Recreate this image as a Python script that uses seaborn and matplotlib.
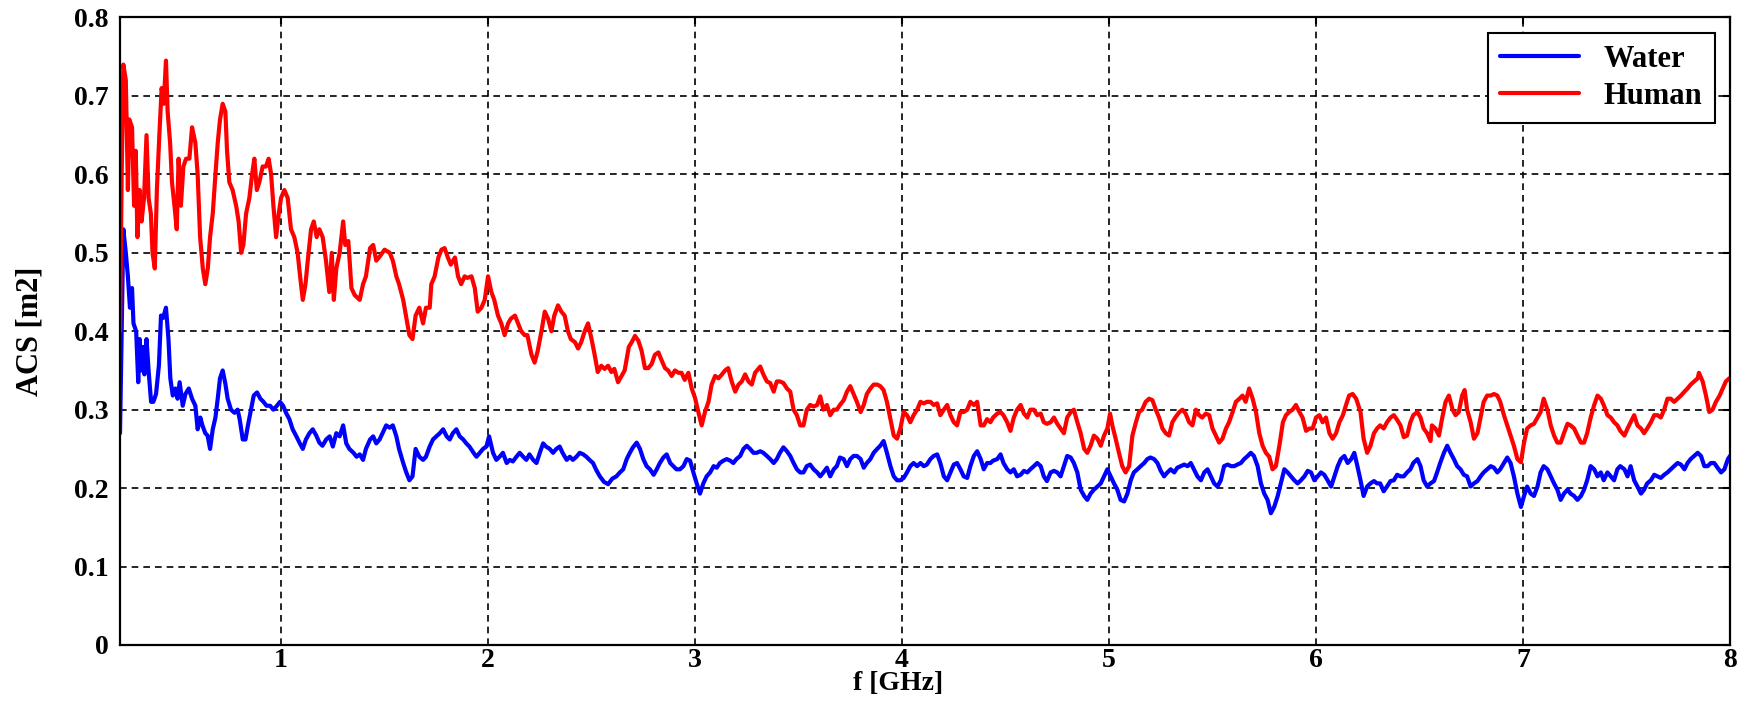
import matplotlib
matplotlib.use("Agg")
import matplotlib.pyplot as plt
import seaborn as sns
import pandas as pd

# (frequency in GHz, ACS in m2)
human_points = [
    (0.222, 0.40), (0.230, 0.60), (0.238, 0.74), (0.250, 0.72), (0.260, 0.58), (0.267, 0.67),
    (0.280, 0.66), (0.290, 0.56), (0.298, 0.63), (0.306, 0.52), (0.317, 0.58), (0.326, 0.54),
    (0.338, 0.57), (0.350, 0.65), (0.360, 0.57), (0.371, 0.55), (0.379, 0.50), (0.390, 0.48),
    (0.400, 0.58), (0.412, 0.65), (0.423, 0.71), (0.433, 0.69), (0.444, 0.745), (0.452, 0.68),
    (0.464, 0.64), (0.473, 0.59), (0.485, 0.56), (0.496, 0.53), (0.505, 0.62), (0.516, 0.56),
    (0.528, 0.61), (0.541, 0.62), (0.557, 0.62), (0.570, 0.66), (0.586, 0.64), (0.597, 0.60),
    (0.609, 0.52), (0.622, 0.48), (0.634, 0.46), (0.646, 0.48), (0.657, 0.52), (0.670, 0.55),
    (0.683, 0.60), (0.694, 0.64), (0.705, 0.67), (0.718, 0.69), (0.731, 0.68), (0.739, 0.63),
    (0.750, 0.59), (0.766, 0.58), (0.783, 0.56), (0.795, 0.54), (0.807, 0.50), (0.818, 0.51),
    (0.831, 0.55), (0.847, 0.57), (0.860, 0.60), (0.871, 0.62), (0.883, 0.58), (0.895, 0.59),
    (0.911, 0.61), (0.927, 0.61), (0.940, 0.62), (0.952, 0.60), (0.963, 0.56), (0.976, 0.52),
    (0.989, 0.55), (1.000, 0.57), (1.016, 0.58), (1.032, 0.57), (1.048, 0.53), (1.064, 0.52),
    (1.080, 0.50), (1.092, 0.47), (1.105, 0.44), (1.118, 0.46), (1.129, 0.49), (1.145, 0.53),
    (1.158, 0.54), (1.172, 0.52), (1.185, 0.53), (1.201, 0.52), (1.217, 0.49), (1.233, 0.45),
    (1.245, 0.50), (1.255, 0.44), (1.267, 0.48), (1.283, 0.50), (1.300, 0.54), (1.310, 0.51),
    (1.325, 0.515), (1.340, 0.455), (1.356, 0.446), (1.380, 0.44), (1.396, 0.46), (1.410, 0.47),
    (1.430, 0.506), (1.445, 0.51), (1.460, 0.49), (1.476, 0.495), (1.500, 0.504), (1.525, 0.50),
    (1.540, 0.49), (1.557, 0.47), (1.570, 0.46), (1.590, 0.44), (1.600, 0.425), (1.620, 0.395),
    (1.635, 0.39), (1.650, 0.42), (1.668, 0.43), (1.686, 0.41), (1.700, 0.43), (1.718, 0.43),
    (1.726, 0.46), (1.742, 0.47), (1.760, 0.494), (1.775, 0.504), (1.790, 0.506), (1.806, 0.494),
    (1.820, 0.485), (1.840, 0.494), (1.855, 0.47), (1.870, 0.46), (1.887, 0.47), (1.900, 0.468),
    (1.920, 0.47), (1.936, 0.455), (1.950, 0.425), (1.968, 0.43), (1.984, 0.44), (2.000, 0.47),
    (2.016, 0.45), (2.030, 0.44), (2.048, 0.42), (2.064, 0.41), (2.080, 0.395), (2.097, 0.41),
    (2.110, 0.416), (2.130, 0.42), (2.145, 0.41), (2.160, 0.40), (2.177, 0.395), (2.190, 0.395),
    (2.210, 0.37), (2.225, 0.36), (2.240, 0.375), (2.258, 0.40), (2.274, 0.425), (2.290, 0.416),
    (2.306, 0.40), (2.320, 0.42), (2.338, 0.433), (2.354, 0.425), (2.370, 0.42), (2.386, 0.40),
    (2.400, 0.39), (2.420, 0.386), (2.435, 0.378), (2.450, 0.386), (2.467, 0.40), (2.483, 0.41),
    (2.500, 0.39), (2.515, 0.37), (2.530, 0.348), (2.547, 0.356), (2.563, 0.352), (2.580, 0.356),
    (2.596, 0.348), (2.610, 0.352), (2.628, 0.335), (2.660, 0.35), (2.680, 0.38), (2.694, 0.386),
    (2.710, 0.394), (2.726, 0.388), (2.742, 0.375), (2.758, 0.353), (2.774, 0.353), (2.790, 0.358),
    (2.806, 0.37), (2.823, 0.373), (2.840, 0.362), (2.855, 0.353), (2.870, 0.35), (2.887, 0.343),
    (2.903, 0.35), (2.920, 0.347), (2.935, 0.347), (2.950, 0.338), (2.968, 0.347), (2.984, 0.327),
    (3.000, 0.315), (3.016, 0.297), (3.032, 0.28), (3.048, 0.297), (3.065, 0.31), (3.080, 0.332),
    (3.097, 0.343), (3.113, 0.34), (3.130, 0.345), (3.145, 0.35), (3.160, 0.353), (3.177, 0.336),
    (3.194, 0.323), (3.210, 0.332), (3.226, 0.336), (3.242, 0.345), (3.258, 0.336), (3.274, 0.332),
    (3.290, 0.347), (3.315, 0.355), (3.330, 0.345), (3.347, 0.336), (3.363, 0.334), (3.380, 0.323),
    (3.395, 0.336), (3.410, 0.336), (3.427, 0.334), (3.444, 0.327), (3.460, 0.323), (3.476, 0.30),
    (3.492, 0.293), (3.508, 0.28), (3.524, 0.28), (3.540, 0.30), (3.556, 0.306), (3.573, 0.304),
    (3.590, 0.306), (3.605, 0.317), (3.620, 0.30), (3.637, 0.306), (3.653, 0.293), (3.670, 0.30),
    (3.685, 0.30), (3.700, 0.306), (3.718, 0.312), (3.734, 0.323), (3.750, 0.33), (3.766, 0.32),
    (3.782, 0.31), (3.800, 0.297), (3.815, 0.306), (3.830, 0.32), (3.847, 0.327), (3.863, 0.332),
    (3.880, 0.332), (3.895, 0.33), (3.911, 0.325), (3.927, 0.31), (3.944, 0.288), (3.960, 0.267),
    (3.976, 0.263), (3.992, 0.276), (4.008, 0.297), (4.024, 0.293), (4.040, 0.284), (4.056, 0.293),
    (4.073, 0.30), (4.089, 0.31), (4.105, 0.308), (4.120, 0.31), (4.137, 0.31), (4.153, 0.306),
    (4.170, 0.308), (4.185, 0.293), (4.202, 0.30), (4.218, 0.306), (4.234, 0.293), (4.250, 0.284),
    (4.266, 0.28), (4.282, 0.297), (4.298, 0.297), (4.315, 0.30), (4.330, 0.31), (4.347, 0.306),
    (4.363, 0.31), (4.380, 0.28), (4.395, 0.28), (4.411, 0.288), (4.427, 0.284), (4.440, 0.29),
    (4.460, 0.295), (4.476, 0.297), (4.490, 0.293), (4.508, 0.284), (4.524, 0.273), (4.540, 0.29),
    (4.556, 0.30), (4.573, 0.306), (4.589, 0.295), (4.605, 0.29), (4.620, 0.30), (4.637, 0.30),
    (4.653, 0.293), (4.670, 0.295), (4.685, 0.284), (4.700, 0.282), (4.718, 0.284), (4.734, 0.29),
    (4.750, 0.282), (4.766, 0.276), (4.782, 0.27), (4.798, 0.29), (4.815, 0.297), (4.830, 0.30),
    (4.847, 0.284), (4.863, 0.27), (4.880, 0.25), (4.895, 0.245), (4.911, 0.254), (4.927, 0.267),
    (4.944, 0.263), (4.960, 0.254), (4.976, 0.267), (4.992, 0.276), (5.005, 0.295), (5.016, 0.28),
    (5.032, 0.263), (5.048, 0.245), (5.064, 0.228), (5.080, 0.22), (5.097, 0.228), (5.113, 0.267),
    (5.130, 0.284), (5.145, 0.297), (5.160, 0.30), (5.177, 0.31), (5.194, 0.314), (5.210, 0.312),
    (5.226, 0.30), (5.242, 0.29), (5.258, 0.276), (5.274, 0.27), (5.290, 0.267), (5.306, 0.284),
    (5.320, 0.29), (5.340, 0.297), (5.355, 0.30), (5.370, 0.295), (5.387, 0.284), (5.403, 0.28),
    (5.420, 0.30), (5.435, 0.293), (5.450, 0.29), (5.468, 0.295), (5.484, 0.293), (5.500, 0.276),
    (5.516, 0.267), (5.532, 0.258), (5.548, 0.263), (5.565, 0.276), (5.580, 0.284), (5.597, 0.297),
    (5.613, 0.31), (5.630, 0.314), (5.645, 0.318), (5.660, 0.31), (5.677, 0.327), (5.694, 0.314),
    (5.710, 0.297), (5.726, 0.27), (5.742, 0.254), (5.758, 0.245), (5.774, 0.24), (5.790, 0.224),
    (5.806, 0.228), (5.823, 0.254), (5.840, 0.284), (5.855, 0.293), (5.870, 0.297), (5.887, 0.30),
    (5.903, 0.306), (5.920, 0.297), (5.935, 0.29), (5.952, 0.273), (5.968, 0.276), (5.984, 0.276),
    (6.000, 0.29), (6.016, 0.293), (6.032, 0.284), (6.048, 0.29), (6.065, 0.27), (6.080, 0.263),
    (6.097, 0.27), (6.113, 0.284), (6.130, 0.293), (6.145, 0.306), (6.160, 0.318), (6.177, 0.32),
    (6.194, 0.314), (6.215, 0.297), (6.230, 0.263), (6.247, 0.245), (6.263, 0.254), (6.280, 0.27),
    (6.295, 0.276), (6.310, 0.28), (6.327, 0.276), (6.343, 0.284), (6.360, 0.29), (6.376, 0.293),
    (6.392, 0.287), (6.408, 0.28), (6.424, 0.265), (6.440, 0.267), (6.456, 0.284), (6.470, 0.293),
    (6.490, 0.297), (6.505, 0.29), (6.520, 0.276), (6.537, 0.27), (6.553, 0.26), (6.560, 0.28),
    (6.577, 0.276), (6.594, 0.267), (6.610, 0.29), (6.626, 0.31), (6.642, 0.318), (6.660, 0.30),
    (6.674, 0.293), (6.690, 0.297), (6.706, 0.318), (6.718, 0.325), (6.730, 0.30), (6.747, 0.284),
    (6.763, 0.263), (6.780, 0.27), (6.795, 0.29), (6.810, 0.31), (6.827, 0.318), (6.844, 0.318),
    (6.860, 0.32), (6.876, 0.318), (6.890, 0.31), (6.908, 0.293), (6.924, 0.28), (6.940, 0.267),
    (6.956, 0.254), (6.973, 0.237), (6.990, 0.233), (7.005, 0.258), (7.020, 0.276), (7.037, 0.28),
    (7.053, 0.282), (7.070, 0.29), (7.085, 0.297), (7.100, 0.314), (7.118, 0.30), (7.134, 0.28),
    (7.150, 0.267), (7.166, 0.258), (7.182, 0.258), (7.198, 0.27), (7.215, 0.282), (7.230, 0.28),
    (7.247, 0.276), (7.263, 0.267), (7.280, 0.258), (7.295, 0.258), (7.310, 0.27), (7.327, 0.29),
    (7.344, 0.306), (7.360, 0.318), (7.376, 0.314), (7.390, 0.306), (7.408, 0.293), (7.424, 0.29),
    (7.440, 0.284), (7.456, 0.28), (7.470, 0.273), (7.490, 0.267), (7.505, 0.276), (7.520, 0.284),
    (7.537, 0.293), (7.553, 0.28), (7.570, 0.276), (7.585, 0.27), (7.600, 0.276), (7.618, 0.284),
    (7.634, 0.293), (7.650, 0.293), (7.666, 0.29), (7.682, 0.30), (7.698, 0.314), (7.714, 0.314),
    (7.730, 0.31), (7.747, 0.314), (7.763, 0.318), (7.780, 0.323), (7.795, 0.327), (7.810, 0.332),
    (7.827, 0.336), (7.844, 0.34), (7.850, 0.347), (7.868, 0.336), (7.884, 0.318), (7.900, 0.297),
    (7.916, 0.30), (7.932, 0.31), (7.950, 0.318), (7.965, 0.327), (7.980, 0.336), (7.997, 0.34),
]

water_points = [
    (0.222, 0.27), (0.230, 0.40), (0.238, 0.53), (0.250, 0.50), (0.260, 0.47), (0.270, 0.43),
    (0.280, 0.455), (0.287, 0.41), (0.300, 0.40), (0.310, 0.335), (0.317, 0.39), (0.325, 0.35),
    (0.333, 0.38), (0.340, 0.345), (0.350, 0.39), (0.360, 0.35), (0.372, 0.31), (0.383, 0.31),
    (0.396, 0.32), (0.410, 0.357), (0.420, 0.42), (0.430, 0.417), (0.444, 0.43), (0.456, 0.39),
    (0.465, 0.34), (0.477, 0.318), (0.490, 0.327), (0.500, 0.314), (0.510, 0.335), (0.525, 0.305),
    (0.538, 0.32), (0.554, 0.327), (0.570, 0.314), (0.586, 0.305), (0.597, 0.275), (0.610, 0.29),
    (0.620, 0.28), (0.634, 0.27), (0.645, 0.267), (0.657, 0.25), (0.670, 0.275), (0.683, 0.29),
    (0.694, 0.314), (0.705, 0.34), (0.718, 0.35), (0.731, 0.333), (0.742, 0.314), (0.758, 0.30),
    (0.775, 0.296), (0.790, 0.30), (0.800, 0.288), (0.815, 0.262), (0.828, 0.262), (0.840, 0.28),
    (0.855, 0.30), (0.868, 0.318), (0.884, 0.322), (0.900, 0.314), (0.915, 0.31), (0.930, 0.305),
    (0.947, 0.305), (0.963, 0.30), (0.980, 0.305), (0.995, 0.31), (1.010, 0.305), (1.024, 0.296),
    (1.040, 0.288), (1.056, 0.275), (1.072, 0.267), (1.089, 0.258), (1.105, 0.25), (1.120, 0.262),
    (1.137, 0.27), (1.153, 0.275), (1.170, 0.267), (1.185, 0.258), (1.200, 0.254), (1.218, 0.262),
    (1.235, 0.266), (1.250, 0.253), (1.267, 0.27), (1.283, 0.266), (1.300, 0.28), (1.315, 0.257),
    (1.330, 0.25), (1.350, 0.245), (1.365, 0.24), (1.380, 0.243), (1.396, 0.236), (1.410, 0.25),
    (1.430, 0.262), (1.445, 0.266), (1.460, 0.257), (1.476, 0.262), (1.490, 0.27), (1.508, 0.28),
    (1.525, 0.277), (1.540, 0.28), (1.557, 0.266), (1.570, 0.25), (1.590, 0.232), (1.605, 0.22),
    (1.620, 0.21), (1.635, 0.215), (1.650, 0.25), (1.668, 0.24), (1.686, 0.236), (1.700, 0.24),
    (1.718, 0.253), (1.734, 0.262), (1.750, 0.266), (1.767, 0.27), (1.783, 0.275), (1.800, 0.266),
    (1.815, 0.262), (1.830, 0.27), (1.847, 0.275), (1.863, 0.266), (1.880, 0.262), (1.895, 0.257),
    (1.910, 0.253), (1.930, 0.245), (1.944, 0.24), (1.960, 0.245), (1.976, 0.25), (1.992, 0.253),
    (2.005, 0.266), (2.024, 0.245), (2.040, 0.236), (2.056, 0.24), (2.072, 0.245), (2.090, 0.232),
    (2.105, 0.236), (2.120, 0.234), (2.137, 0.24), (2.153, 0.245), (2.170, 0.24), (2.185, 0.236),
    (2.200, 0.243), (2.218, 0.236), (2.234, 0.232), (2.250, 0.245), (2.266, 0.257), (2.280, 0.253),
    (2.298, 0.25), (2.314, 0.245), (2.330, 0.25), (2.346, 0.253), (2.360, 0.245), (2.380, 0.236),
    (2.395, 0.24), (2.410, 0.236), (2.427, 0.24), (2.443, 0.245), (2.460, 0.243), (2.475, 0.24),
    (2.490, 0.236), (2.507, 0.232), (2.523, 0.223), (2.540, 0.215), (2.560, 0.208), (2.580, 0.205),
    (2.600, 0.212), (2.620, 0.215), (2.637, 0.22), (2.653, 0.224), (2.670, 0.237), (2.685, 0.245),
    (2.700, 0.252), (2.718, 0.258), (2.734, 0.25), (2.750, 0.237), (2.766, 0.228), (2.782, 0.224),
    (2.800, 0.217), (2.815, 0.224), (2.830, 0.232), (2.847, 0.239), (2.863, 0.243), (2.880, 0.232),
    (2.895, 0.228), (2.910, 0.224), (2.927, 0.224), (2.944, 0.228), (2.960, 0.237), (2.976, 0.235),
    (2.992, 0.22), (3.008, 0.206), (3.024, 0.193), (3.040, 0.206), (3.056, 0.215), (3.073, 0.22),
    (3.090, 0.228), (3.105, 0.226), (3.120, 0.232), (3.137, 0.235), (3.153, 0.237), (3.170, 0.235),
    (3.185, 0.232), (3.200, 0.237), (3.218, 0.241), (3.234, 0.25), (3.250, 0.254), (3.266, 0.25),
    (3.282, 0.245), (3.298, 0.245), (3.315, 0.247), (3.330, 0.245), (3.347, 0.241), (3.363, 0.237),
    (3.380, 0.232), (3.395, 0.237), (3.410, 0.245), (3.427, 0.252), (3.444, 0.247), (3.460, 0.241),
    (3.476, 0.232), (3.492, 0.224), (3.508, 0.22), (3.524, 0.22), (3.540, 0.228), (3.556, 0.23),
    (3.573, 0.224), (3.590, 0.22), (3.605, 0.215), (3.620, 0.22), (3.637, 0.226), (3.653, 0.215),
    (3.670, 0.224), (3.685, 0.228), (3.700, 0.239), (3.718, 0.237), (3.734, 0.228), (3.750, 0.237),
    (3.766, 0.241), (3.782, 0.241), (3.800, 0.237), (3.815, 0.226), (3.830, 0.232), (3.847, 0.237),
    (3.863, 0.245), (3.880, 0.25), (3.895, 0.254), (3.911, 0.26), (3.927, 0.245), (3.944, 0.228),
    (3.960, 0.215), (3.976, 0.21), (3.992, 0.21), (4.008, 0.213), (4.024, 0.22), (4.040, 0.228),
    (4.056, 0.232), (4.073, 0.228), (4.089, 0.232), (4.105, 0.228), (4.120, 0.23), (4.137, 0.237),
    (4.153, 0.241), (4.170, 0.243), (4.185, 0.232), (4.202, 0.215), (4.218, 0.21), (4.234, 0.22),
    (4.250, 0.23), (4.266, 0.232), (4.282, 0.224), (4.298, 0.215), (4.315, 0.213), (4.330, 0.228),
    (4.347, 0.241), (4.363, 0.247), (4.380, 0.237), (4.395, 0.224), (4.411, 0.232), (4.427, 0.232),
    (4.440, 0.235), (4.460, 0.237), (4.476, 0.243), (4.490, 0.232), (4.508, 0.224), (4.524, 0.22),
    (4.540, 0.224), (4.556, 0.215), (4.573, 0.217), (4.589, 0.222), (4.605, 0.22), (4.620, 0.224),
    (4.637, 0.228), (4.653, 0.232), (4.670, 0.228), (4.685, 0.215), (4.700, 0.209), (4.718, 0.22),
    (4.734, 0.222), (4.750, 0.22), (4.766, 0.215), (4.782, 0.228), (4.798, 0.241), (4.815, 0.239),
    (4.830, 0.232), (4.847, 0.22), (4.863, 0.198), (4.880, 0.19), (4.895, 0.185), (4.911, 0.193),
    (4.927, 0.198), (4.944, 0.202), (4.960, 0.206), (4.976, 0.215), (4.992, 0.224), (5.008, 0.215),
    (5.024, 0.206), (5.040, 0.198), (5.056, 0.185), (5.073, 0.183), (5.089, 0.193), (5.105, 0.21),
    (5.120, 0.22), (5.137, 0.224), (5.153, 0.228), (5.170, 0.232), (5.185, 0.237), (5.200, 0.239),
    (5.218, 0.237), (5.234, 0.232), (5.250, 0.222), (5.266, 0.215), (5.282, 0.22), (5.298, 0.224),
    (5.315, 0.22), (5.330, 0.226), (5.347, 0.228), (5.363, 0.23), (5.380, 0.228), (5.395, 0.232),
    (5.410, 0.224), (5.427, 0.215), (5.444, 0.21), (5.460, 0.22), (5.476, 0.224), (5.492, 0.215),
    (5.508, 0.206), (5.524, 0.202), (5.540, 0.21), (5.556, 0.228), (5.573, 0.23), (5.590, 0.228),
    (5.605, 0.228), (5.620, 0.23), (5.637, 0.232), (5.653, 0.237), (5.670, 0.241), (5.685, 0.245),
    (5.700, 0.241), (5.718, 0.228), (5.734, 0.206), (5.750, 0.193), (5.766, 0.185), (5.782, 0.168),
    (5.798, 0.176), (5.815, 0.19), (5.830, 0.206), (5.847, 0.224), (5.863, 0.22), (5.879, 0.215),
    (5.895, 0.21), (5.911, 0.206), (5.927, 0.21), (5.944, 0.215), (5.960, 0.222), (5.976, 0.22),
    (5.992, 0.21), (6.008, 0.215), (6.024, 0.22), (6.040, 0.217), (6.056, 0.21), (6.073, 0.202),
    (6.089, 0.215), (6.105, 0.228), (6.120, 0.237), (6.137, 0.241), (6.153, 0.232), (6.170, 0.237),
    (6.185, 0.245), (6.200, 0.228), (6.215, 0.21), (6.230, 0.19), (6.247, 0.202), (6.263, 0.206),
    (6.280, 0.209), (6.295, 0.206), (6.310, 0.206), (6.327, 0.196), (6.343, 0.202), (6.360, 0.209),
    (6.376, 0.21), (6.392, 0.217), (6.408, 0.215), (6.424, 0.215), (6.440, 0.22), (6.456, 0.224),
    (6.470, 0.232), (6.490, 0.237), (6.505, 0.228), (6.520, 0.21), (6.537, 0.202), (6.553, 0.206),
    (6.570, 0.209), (6.585, 0.22), (6.600, 0.232), (6.618, 0.245), (6.634, 0.254), (6.650, 0.245),
    (6.666, 0.237), (6.682, 0.228), (6.698, 0.224), (6.714, 0.217), (6.730, 0.215), (6.747, 0.202),
    (6.763, 0.206), (6.780, 0.209), (6.795, 0.215), (6.810, 0.22), (6.827, 0.224), (6.844, 0.228),
    (6.860, 0.226), (6.876, 0.22), (6.890, 0.224), (6.908, 0.232), (6.924, 0.239), (6.940, 0.232),
    (6.956, 0.215), (6.973, 0.193), (6.990, 0.176), (7.005, 0.19), (7.020, 0.202), (7.037, 0.193),
    (7.053, 0.19), (7.070, 0.202), (7.085, 0.22), (7.100, 0.228), (7.118, 0.224), (7.134, 0.215),
    (7.150, 0.206), (7.166, 0.198), (7.182, 0.185), (7.198, 0.193), (7.215, 0.198), (7.230, 0.193),
    (7.247, 0.19), (7.263, 0.185), (7.280, 0.19), (7.295, 0.198), (7.310, 0.21), (7.327, 0.228),
    (7.344, 0.224), (7.360, 0.215), (7.376, 0.22), (7.390, 0.21), (7.408, 0.22), (7.424, 0.215),
    (7.440, 0.21), (7.456, 0.224), (7.470, 0.228), (7.490, 0.224), (7.505, 0.215), (7.520, 0.228),
    (7.537, 0.21), (7.553, 0.202), (7.570, 0.193), (7.585, 0.198), (7.600, 0.206), (7.618, 0.21),
    (7.634, 0.217), (7.650, 0.215), (7.666, 0.213), (7.682, 0.217), (7.698, 0.22), (7.714, 0.224),
    (7.730, 0.228), (7.747, 0.232), (7.763, 0.23), (7.780, 0.224), (7.795, 0.232), (7.810, 0.237),
    (7.827, 0.241), (7.844, 0.245), (7.860, 0.241), (7.876, 0.228), (7.892, 0.228), (7.908, 0.232),
    (7.924, 0.232), (7.940, 0.226), (7.957, 0.22), (7.973, 0.224), (7.990, 0.237), (8.000, 0.241),
]

series_names = ["Water", "Human"]
series_colors = {"Water": "#0000ff", "Human": "#ff0000"}
x_ticks = [1, 2, 3, 4, 5, 6, 7, 8]
y_ticks = [0, 0.1, 0.2, 0.3, 0.4, 0.5, 0.6, 0.7, 0.8]
y_tick_labels = ["0", "0.1", "0.2", "0.3", "0.4", "0.5", "0.6", "0.7", "0.8"]

frames = []
for name, pts in [("Water", water_points), ("Human", human_points)]:
    d = pd.DataFrame(pts, columns=["f", "acs"])
    d["material"] = name
    frames.append(d)
df = pd.concat(frames, ignore_index=True)

sns.set_style("white")
plt.rcParams["font.family"] = ["Liberation Serif", "DejaVu Serif"]
plt.rcParams["font.weight"] = "bold"
for key in ["text.color", "axes.labelcolor", "xtick.color", "ytick.color"]:
    plt.rcParams[key] = "black"

fig = plt.figure(figsize=(17.42, 7.23), dpi=100)
ax = fig.add_axes([0.0689, 0.1079, 0.9242, 0.8679])

sns.lineplot(data=df, x="f", y="acs", hue="material", hue_order=series_names,
             palette=series_colors, estimator=None, sort=False, linewidth=3.0, ax=ax)

ax.set_xlim(0.222, 8)
ax.set_ylim(0, 0.8)
ax.set_xticks(x_ticks)
ax.set_xticklabels([str(t) for t in x_ticks])
ax.set_yticks(y_ticks)
ax.set_yticklabels(y_tick_labels)
ax.grid(True, color="black", linestyle=(0, (4, 3)), linewidth=1.2)
ax.set_axisbelow(True)
ax.tick_params(direction="in", top=True, right=True, length=5, width=1.5, labelsize=20)
ax.tick_params(axis="y", pad=8)
ax.tick_params(axis="x", pad=2)
for s in ax.spines.values():
    s.set_linewidth(1.6)
    s.set_color("black")

ax.set_xlabel("f [GHz]", fontsize=20, fontweight="bold")
ax.set_ylabel("ACS [m2]", fontsize=22, fontweight="bold")
ax.xaxis.set_label_coords(0.483, -0.042)
ax.yaxis.set_label_coords(-0.047, 0.5)

leg = ax.legend(loc="upper right", frameon=True, fancybox=False, fontsize=22,
                handlelength=2.6, labelspacing=0.25, borderaxespad=0.5, framealpha=1)
leg.get_frame().set_edgecolor("black")
leg.get_frame().set_linewidth(1.5)
for line in leg.get_lines():
    line.set_linewidth(3.0)

fig.savefig("out.png", dpi=100)
